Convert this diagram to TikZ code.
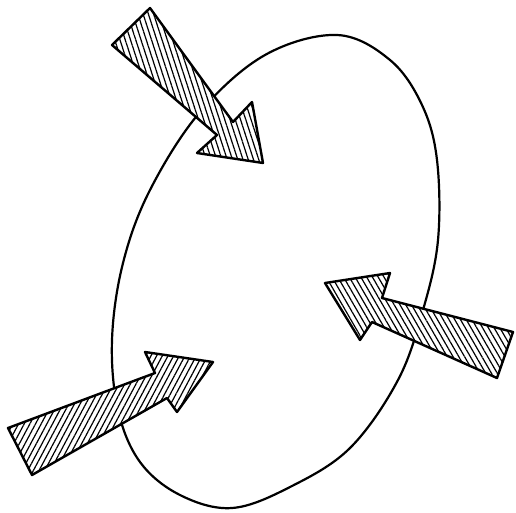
\documentclass[tikz,border=0pt]{standalone}
\usepackage{tikz}
\usetikzlibrary{patterns.meta}
\tikzset{
  rim/.style={draw=black,line width=2.2pt},
  hatcharrow/.style={draw=black,line width=2.4pt,line join=round,
    preaction={fill=white},
    pattern={Lines[angle=#1,distance=5pt,line width=1.2pt]},pattern color=black}
}

\begin{document}
\begin{tikzpicture}[x=1pt,y=-1pt]
  \useasboundingbox (0,0) rectangle (516,512);

  % the blob
  \draw[rim] plot[smooth cycle,tension=0.6] coordinates {
    (337,35) (390,60) (422,105) (437,160) (438,240)
    (423,310) (398,380) (350,448) (290,487) (232,508)
    (180,495) (140,462) (118,410) (112,340) (123,263)
    (150,190) (200,112) (265,55)};

  % arrow from the upper left
  \draw[hatcharrow=-72] (150,8) -- (233,122) -- (252,102) -- (263,163)
    -- (197,153) -- (217,135) -- (112,45) -- cycle;

  % arrow from the right
  \draw[hatcharrow=-60] (513,332) -- (382,298) -- (390,273) -- (325,283)
    -- (360,340) -- (372,322) -- (497,378) -- cycle;

  % arrow from the lower left
  \draw[hatcharrow=62] (8,428) -- (155,373) -- (145,352) -- (213,362)
    -- (177,412) -- (167,398) -- (32,475) -- cycle;
\end{tikzpicture}
\end{document}
